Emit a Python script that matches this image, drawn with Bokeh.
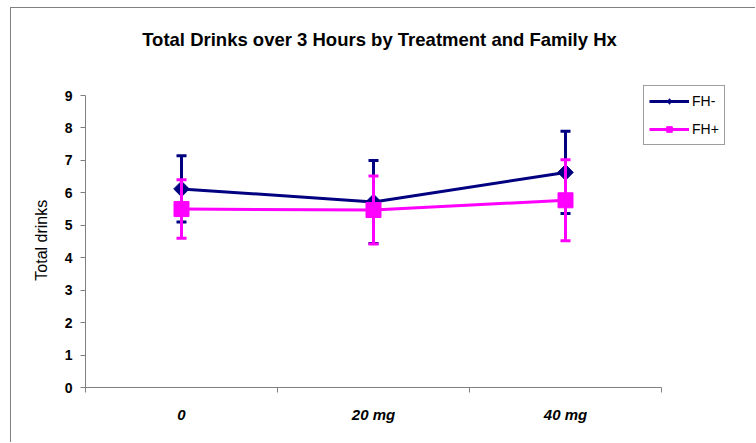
from math import pi
from bokeh.plotting import figure
from bokeh.models import (ColumnDataSource, FixedTicker, Whisker, TeeHead, Legend,
                          LegendItem, Label, Range1d)
from bokeh.embed import file_html
from bokeh.resources import INLINE

# Data
doses = ["0", "20 mg", "40 mg"]
fh_neg = [6.12, 5.72, 6.63]
fh_neg_err = [1.02, 1.28, 1.27]
fh_pos = [5.5, 5.47, 5.77]
fh_pos_err = [0.9, 1.05, 1.25]
y_ticks = list(range(10))

NAVY = "#000080"
MAGENTA = "#FF00FF"
AXIS_GREY = "#808080"
FONT = "Liberation Sans"

n = len(doses)
xs = [i + 0.5 for i in range(n)]

# The frame covers the whole chart area (title and legend live inside it);
# both axes are bounded to the data region.
px_per_cat = 192.0
px_per_unit = 292.0 / 9
x_end = 666.0 / px_per_cat
y_end = 379.0 / px_per_unit

p = figure(width=745, height=435, output_backend="svg", toolbar_location=None,
           x_range=Range1d(0, x_end), y_range=Range1d(0, y_end),
           min_border_left=74, min_border_right=5, min_border_top=0,
           min_border_bottom=56, background_fill_color="white",
           border_fill_color="white")
p.margin = (7, 0, 0, 10)
p.styles = {"border-top": f"1px solid {AXIS_GREY}",
            "border-left": f"1px solid {AXIS_GREY}"}
p.outline_line_color = None
p.grid.visible = False

# Axes
p.xaxis.bounds = (0, n)
p.xaxis.ticker = FixedTicker(ticks=xs, minor_ticks=list(range(n + 1)))
p.xaxis.major_label_overrides = {x: d for x, d in zip(xs, doses)}
p.xaxis.major_tick_line_color = None
p.xaxis.minor_tick_in = 0
p.xaxis.minor_tick_out = 5
p.xaxis.minor_tick_line_color = AXIS_GREY
p.xaxis.axis_line_color = AXIS_GREY
p.xaxis.major_label_text_font = FONT
p.xaxis.major_label_text_font_style = "bold italic"
p.xaxis.major_label_text_font_size = "15px"
p.xaxis.major_label_text_color = "black"
p.xaxis.major_label_standoff = 12

p.yaxis.bounds = (y_ticks[0], y_ticks[-1])
p.yaxis.ticker = FixedTicker(ticks=y_ticks)
p.yaxis.axis_line_color = AXIS_GREY
p.yaxis.major_tick_line_color = AXIS_GREY
p.yaxis.major_tick_in = 0
p.yaxis.major_tick_out = 5
p.yaxis.minor_tick_line_color = None
p.yaxis.major_label_text_font = FONT
p.yaxis.major_label_text_font_style = "bold"
p.yaxis.major_label_text_font_size = "14px"
p.yaxis.major_label_text_color = "black"
p.yaxis.major_label_standoff = 8
# trailing no-break spaces keep the label centred on the 0-9 span of the axis
p.yaxis.axis_label = "Total drinks" + "\u00a0" * 19
p.yaxis.axis_label_text_font = FONT
p.yaxis.axis_label_text_font_style = "normal"
p.yaxis.axis_label_text_font_size = "16px"
p.yaxis.axis_label_text_color = "black"
p.yaxis.axis_label_standoff = 12

# Title
p.add_layout(Label(x=367, y=30, x_units="canvas", y_units="canvas",
                   text="Total Drinks over 3 Hours by Treatment and Family Hx",
                   text_align="center", text_baseline="middle",
                   text_font=FONT, text_font_style="bold",
                   text_font_size="18.5px", text_color="black"))

# Error bars
src_neg = ColumnDataSource(dict(x=xs, y=fh_neg,
                                lo=[v - e for v, e in zip(fh_neg, fh_neg_err)],
                                hi=[v + e for v, e in zip(fh_neg, fh_neg_err)]))
src_pos = ColumnDataSource(dict(x=xs, y=fh_pos,
                                lo=[v - e for v, e in zip(fh_pos, fh_pos_err)],
                                hi=[v + e for v, e in zip(fh_pos, fh_pos_err)]))

for src, col in ((src_neg, NAVY), (src_pos, MAGENTA)):
    w = Whisker(source=src, base="x", lower="lo", upper="hi", dimension="height",
                line_color=col, line_width=3,
                upper_head=TeeHead(size=10, line_color=col, line_width=3),
                lower_head=TeeHead(size=10, line_color=col, line_width=3))
    w.level = "glyph"
    p.add_layout(w)

# Series lines and markers
l_neg = p.line("x", "y", source=src_neg, line_color=NAVY, line_width=3)
m_neg = p.scatter("x", "y", source=src_neg, marker="square", angle=pi / 4, size=11,
                  fill_color=NAVY, line_color=NAVY)
l_pos = p.line("x", "y", source=src_pos, line_color=MAGENTA, line_width=3)
m_pos = p.scatter("x", "y", source=src_pos, marker="square", size=15,
                  fill_color=MAGENTA, line_color=MAGENTA)

# Smaller markers used only for the legend swatches (hidden on the plot)
leg_neg = p.scatter("x", "y", source=src_neg, marker="diamond", size=10,
                    fill_color=NAVY, line_color=NAVY, visible=False)
leg_pos = p.scatter("x", "y", source=src_pos, marker="square", size=10,
                    fill_color=MAGENTA, line_color=MAGENTA, visible=False)

legend = Legend(items=[LegendItem(label="FH-", renderers=[l_neg, leg_neg]),
                       LegendItem(label="FH+", renderers=[l_pos, leg_pos])],
                location=(558, 242), orientation="vertical",
                label_text_font=FONT, label_text_font_size="14px",
                label_text_color="black", glyph_width=40, glyph_height=14,
                label_height=20, label_standoff=3, spacing=8, padding=5,
                margin=0, border_line_color="#404040", border_line_width=1,
                background_fill_alpha=1, click_policy="none")
p.add_layout(legend, "center")

open("out.html", "w").write(file_html(p, INLINE))
